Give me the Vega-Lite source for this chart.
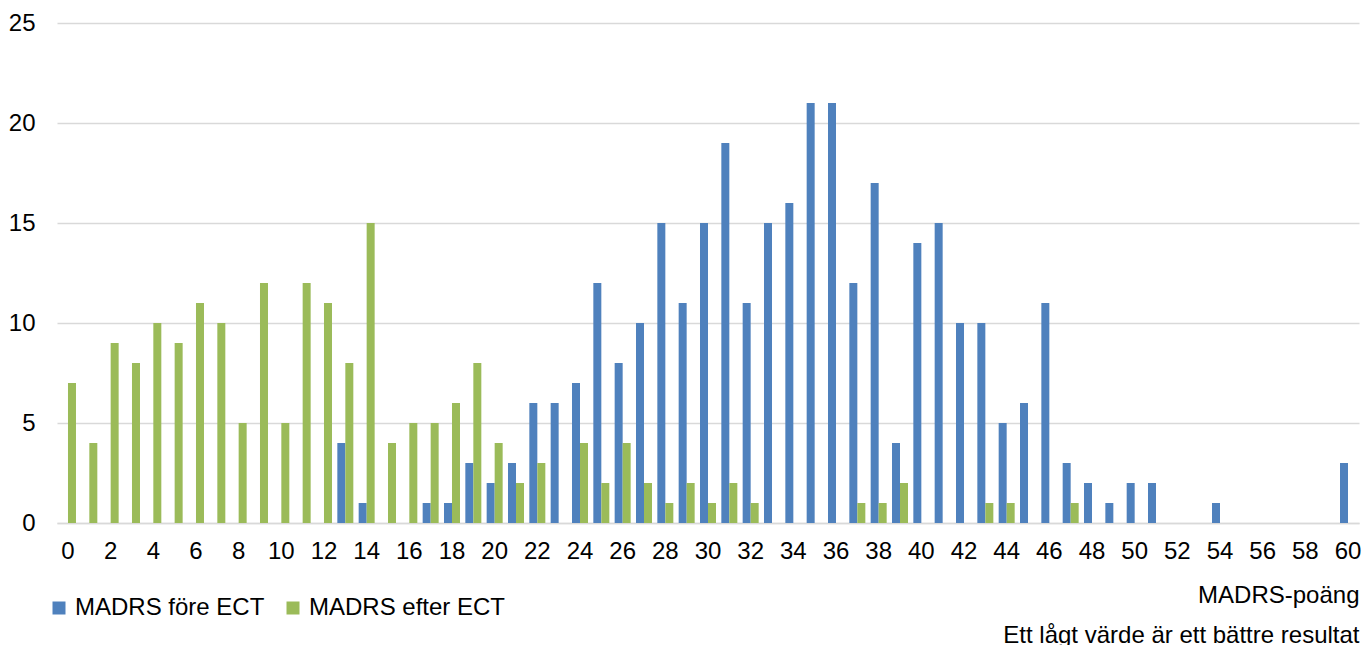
{
  "$schema": "https://vega.github.io/schema/vega-lite/v6.json",
  "autosize": "none",
  "width": 1302,
  "height": 500,
  "padding": {"left": 57, "top": 23, "right": 4, "bottom": 122},
  "background": "white",
  "config": {
    "font": "Liberation Sans",
    "view": {"stroke": null}
  },
  "data": {
    "values": [
      {"score": 13, "series": "MADRS före ECT", "count": 4},
      {"score": 14, "series": "MADRS före ECT", "count": 1},
      {"score": 17, "series": "MADRS före ECT", "count": 1},
      {"score": 18, "series": "MADRS före ECT", "count": 1},
      {"score": 19, "series": "MADRS före ECT", "count": 3},
      {"score": 20, "series": "MADRS före ECT", "count": 2},
      {"score": 21, "series": "MADRS före ECT", "count": 3},
      {"score": 22, "series": "MADRS före ECT", "count": 6},
      {"score": 23, "series": "MADRS före ECT", "count": 6},
      {"score": 24, "series": "MADRS före ECT", "count": 7},
      {"score": 25, "series": "MADRS före ECT", "count": 12},
      {"score": 26, "series": "MADRS före ECT", "count": 8},
      {"score": 27, "series": "MADRS före ECT", "count": 10},
      {"score": 28, "series": "MADRS före ECT", "count": 15},
      {"score": 29, "series": "MADRS före ECT", "count": 11},
      {"score": 30, "series": "MADRS före ECT", "count": 15},
      {"score": 31, "series": "MADRS före ECT", "count": 19},
      {"score": 32, "series": "MADRS före ECT", "count": 11},
      {"score": 33, "series": "MADRS före ECT", "count": 15},
      {"score": 34, "series": "MADRS före ECT", "count": 16},
      {"score": 35, "series": "MADRS före ECT", "count": 21},
      {"score": 36, "series": "MADRS före ECT", "count": 21},
      {"score": 37, "series": "MADRS före ECT", "count": 12},
      {"score": 38, "series": "MADRS före ECT", "count": 17},
      {"score": 39, "series": "MADRS före ECT", "count": 4},
      {"score": 40, "series": "MADRS före ECT", "count": 14},
      {"score": 41, "series": "MADRS före ECT", "count": 15},
      {"score": 42, "series": "MADRS före ECT", "count": 10},
      {"score": 43, "series": "MADRS före ECT", "count": 10},
      {"score": 44, "series": "MADRS före ECT", "count": 5},
      {"score": 45, "series": "MADRS före ECT", "count": 6},
      {"score": 46, "series": "MADRS före ECT", "count": 11},
      {"score": 47, "series": "MADRS före ECT", "count": 3},
      {"score": 48, "series": "MADRS före ECT", "count": 2},
      {"score": 49, "series": "MADRS före ECT", "count": 1},
      {"score": 50, "series": "MADRS före ECT", "count": 2},
      {"score": 51, "series": "MADRS före ECT", "count": 2},
      {"score": 54, "series": "MADRS före ECT", "count": 1},
      {"score": 60, "series": "MADRS före ECT", "count": 3},
      {"score": 0, "series": "MADRS efter ECT", "count": 7},
      {"score": 1, "series": "MADRS efter ECT", "count": 4},
      {"score": 2, "series": "MADRS efter ECT", "count": 9},
      {"score": 3, "series": "MADRS efter ECT", "count": 8},
      {"score": 4, "series": "MADRS efter ECT", "count": 10},
      {"score": 5, "series": "MADRS efter ECT", "count": 9},
      {"score": 6, "series": "MADRS efter ECT", "count": 11},
      {"score": 7, "series": "MADRS efter ECT", "count": 10},
      {"score": 8, "series": "MADRS efter ECT", "count": 5},
      {"score": 9, "series": "MADRS efter ECT", "count": 12},
      {"score": 10, "series": "MADRS efter ECT", "count": 5},
      {"score": 11, "series": "MADRS efter ECT", "count": 12},
      {"score": 12, "series": "MADRS efter ECT", "count": 11},
      {"score": 13, "series": "MADRS efter ECT", "count": 8},
      {"score": 14, "series": "MADRS efter ECT", "count": 15},
      {"score": 15, "series": "MADRS efter ECT", "count": 4},
      {"score": 16, "series": "MADRS efter ECT", "count": 5},
      {"score": 17, "series": "MADRS efter ECT", "count": 5},
      {"score": 18, "series": "MADRS efter ECT", "count": 6},
      {"score": 19, "series": "MADRS efter ECT", "count": 8},
      {"score": 20, "series": "MADRS efter ECT", "count": 4},
      {"score": 21, "series": "MADRS efter ECT", "count": 2},
      {"score": 22, "series": "MADRS efter ECT", "count": 3},
      {"score": 24, "series": "MADRS efter ECT", "count": 4},
      {"score": 25, "series": "MADRS efter ECT", "count": 2},
      {"score": 26, "series": "MADRS efter ECT", "count": 4},
      {"score": 27, "series": "MADRS efter ECT", "count": 2},
      {"score": 28, "series": "MADRS efter ECT", "count": 1},
      {"score": 29, "series": "MADRS efter ECT", "count": 2},
      {"score": 30, "series": "MADRS efter ECT", "count": 1},
      {"score": 31, "series": "MADRS efter ECT", "count": 2},
      {"score": 32, "series": "MADRS efter ECT", "count": 1},
      {"score": 37, "series": "MADRS efter ECT", "count": 1},
      {"score": 38, "series": "MADRS efter ECT", "count": 1},
      {"score": 39, "series": "MADRS efter ECT", "count": 2},
      {"score": 43, "series": "MADRS efter ECT", "count": 1},
      {"score": 44, "series": "MADRS efter ECT", "count": 1},
      {"score": 47, "series": "MADRS efter ECT", "count": 1}
    ]
  },
  "mark": {"type": "bar"},
  "encoding": {
    "x": {
      "field": "score",
      "type": "ordinal",
      "scale": {
        "domain": [0,1,2,3,4,5,6,7,8,9,10,11,12,13,14,15,16,17,18,19,20,21,22,23,24,25,26,27,28,29,30,31,32,33,34,35,36,37,38,39,40,41,42,43,44,45,46,47,48,49,50,51,52,53,54,55,56,57,58,59,60],
        "paddingInner": 0.25,
        "paddingOuter": 0.14
      },
      "axis": {
        "values": [0,2,4,6,8,10,12,14,16,18,20,22,24,26,28,30,32,34,36,38,40,42,44,46,48,50,52,54,56,58,60],
        "labelAngle": 0,
        "labelFontSize": 24,
        "labelColor": "#000000",
        "labelPadding": 16,
        "ticks": false,
        "domainColor": "#d9d9d9",
        "domainWidth": 1.5,
        "title": ["MADRS-poäng", "Ett lågt värde är ett bättre resultat"],
        "titleFontSize": 24,
        "titleFontWeight": "normal",
        "titleColor": "#000000",
        "titleAnchor": "end",
        "titleAlign": "right",
        "titleLineHeight": 40,
        "titlePadding": 20
      }
    },
    "xOffset": {
      "field": "series",
      "type": "nominal",
      "scale": {"domain": ["MADRS före ECT", "MADRS efter ECT"], "paddingInner": 0, "paddingOuter": 0}
    },
    "y": {
      "field": "count",
      "type": "quantitative",
      "scale": {"domain": [0, 25], "nice": false},
      "axis": {
        "values": [0, 5, 10, 15, 20, 25],
        "title": null,
        "domain": false,
        "ticks": false,
        "labelFontSize": 24,
        "labelColor": "#000000",
        "labelPadding": 22,
        "gridColor": "#d9d9d9",
        "gridWidth": 1.5
      }
    },
    "color": {
      "field": "series",
      "type": "nominal",
      "scale": {"domain": ["MADRS före ECT", "MADRS efter ECT"], "range": ["#4f81bd", "#9bbb59"]},
      "legend": {
        "title": null,
        "orient": "none",
        "direction": "horizontal",
        "legendX": -10,
        "legendY": 573,
        "symbolType": "square",
        "symbolSize": 169,
        "symbolStrokeWidth": 0,
        "labelFontSize": 24,
        "labelColor": "#000000",
        "labelOffset": 4,
        "columnPadding": 16,
        "labelLimit": 400
      }
    }
  }
}
